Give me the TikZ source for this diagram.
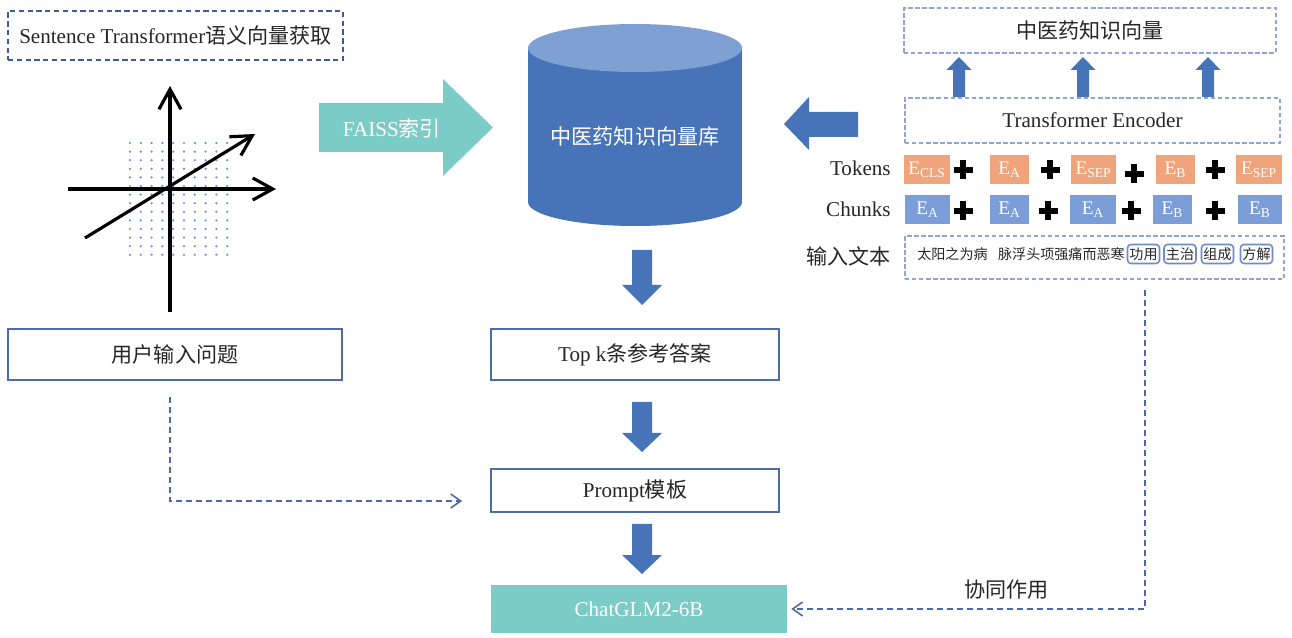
\documentclass[tikz,border=0pt]{standalone}
\usepackage{fontspec}
\setmainfont{Liberation Serif}
\newfontfamily\cjk{Noto Sans CJK SC}
\usetikzlibrary{arrows.meta,calc}

\definecolor{linkblue}{HTML}{4A6AA8}
\definecolor{boxline}{HTML}{4D6DAA}
\definecolor{headline}{HTML}{3D5A9C}
\definecolor{dotline}{HTML}{8EA6D4}
\definecolor{tagline}{HTML}{6F8CC6}
\definecolor{faiss}{HTML}{7BCBC6}
\definecolor{dbbody}{HTML}{4773B8}
\definecolor{dbtop}{HTML}{7FA0D2}
\definecolor{tokorange}{HTML}{F0A47C}
\definecolor{chunkblue}{HTML}{7B9ED8}
\definecolor{griddot}{HTML}{6C8DD2}
\definecolor{txt}{HTML}{262626}

\newcommand{\zh}[1]{{\cjk #1}}

\tikzset{
  box/.style={draw=boxline, line width=0.9pt, fill=white, text=txt, inner sep=0pt,
    font=\fontsize{12}{14}\selectfont},
  headbox/.style={draw=headline, line width=0.9pt, dash pattern=on 3pt off 2pt, text=txt,
    inner sep=0pt, font=\fontsize{12}{14}\selectfont},
  dashbox/.style={draw=dotline, line width=1.1pt, dash pattern=on 2.5pt off 1.5pt, text=txt,
    inner sep=0pt, font=\fontsize{12}{14}\selectfont},
  lbl/.style={text=txt, inner sep=0pt, font=\fontsize{12}{14}\selectfont},
  tok/.style={inner sep=0pt, text=white, font=\fontsize{11}{13}\selectfont},
  tag/.style={draw=tagline, line width=0.9pt, rounded corners=2pt, text=txt, inner sep=0pt,
    minimum width=0.64cm, minimum height=0.38cm, font=\fontsize{8}{9}\selectfont},
  blk/.style={fill=dbbody},
  plus/.style={line width=3.4pt, black},
  axis/.style={line width=1.8pt, black, -{Straight Barb[length=4mm,width=4.4mm]}},
  link/.style={draw=linkblue, line width=0.9pt, dash pattern=on 3.4pt off 2.3pt,
    -{Straight Barb[length=2mm,width=2.8mm]}}
}

\begin{document}
\begin{tikzpicture}[x=0.02cm, y=-0.02cm]
\useasboundingbox (0,0) rectangle (1292,638);

% left column
\node[headbox, minimum width=6.7cm, minimum height=0.98cm] (head) at (175.5,35.5)
  {Sentence Transformer\zh{语义向量获取}};

\foreach \i in {0,...,9}
  \foreach \j in {0,...,13}
    \fill[griddot] (130+\i*10.8,143+\j*8.6) circle (0.7pt);
\draw[axis] (170,312) -- (170,86);
\draw[axis] (68,189) -- (276,189);
\draw[axis] (85,238) -- (255,134);

\node[box, minimum width=6.68cm, minimum height=1.02cm] (user) at (175,354.5) {\zh{用户输入问题}};

% FAISS arrow and vector store
\fill[faiss] (319,103) -- (443,103) -- (443,79) -- (493,127.5) -- (443,176) -- (443,152) -- (319,152) -- cycle;
\node[lbl, text=white] (idx) at (392,128) {FAISS\zh{索引}};

\fill[dbbody] (528,48) rectangle (742,202);
\fill[dbbody] (635,202) ellipse [x radius=107, y radius=24];
\fill[dbtop] (635,48) ellipse [x radius=107, y radius=24];
\node[lbl, text=white] (db) at (635,137) {\zh{中医药知识向量库}};

\fill[blk] (858,112) -- (809,112) -- (809,97) -- (784,124) -- (809,150) -- (809,137) -- (858,137) -- cycle;

% middle column
\node[box, minimum width=5.76cm, minimum height=1.02cm] (topk) at (635,354.5) {Top k\zh{条参考答案}};
\node[box, minimum width=5.76cm, minimum height=0.86cm] (prompt) at (635,490.5) {Prompt\zh{模板}};
\node[box, draw=none, fill=faiss, text=white, minimum width=5.92cm, minimum height=0.96cm] (glm) at (639,609) {ChatGLM2-6B};

\foreach \a/\b/\c in {250/285/305, 402/433/452, 524/555/574}
  \fill[blk] (632,\a) -- (652,\a) -- (652,\b) -- (662,\b) -- (642,\c) -- (622,\b) -- (632,\b) -- cycle;

% right column
\node[dashbox, minimum width=7.44cm, minimum height=0.9cm] (vec) at (1090,30.5) {\zh{中医药知识向量}};
\node[dashbox, minimum width=7.5cm, minimum height=0.9cm] (enc) at (1092.5,120.5) {Transformer Encoder};

\foreach \x in {959,1083,1208}
  \fill[blk] (\x-6,97) -- (\x-6,70) -- (\x-12.5,70) -- (\x,57) -- (\x+12.5,70) -- (\x+6,70) -- (\x+6,97) -- cycle;

\node[lbl, anchor=east] (tokl) at (891,168) {Tokens};
\node[lbl, anchor=east] (chkl) at (891,209) {Chunks};
\node[lbl, anchor=east] (inl) at (891,256) {\zh{输入文本}};

\foreach \l/\r/\s [count=\i] in {904/950/CLS, 990/1029/A, 1071/1116/SEP, 1156/1195/B, 1236/1282/SEP}
  \node[tok, fill=tokorange, minimum width={(\r-\l)*0.02cm}, minimum height=0.58cm]
    (t\i) at ({(\l+\r)/2},169.5) {E\textsubscript{\s}};
\foreach \l/\r/\s [count=\i] in {905/950/A, 990/1029/A, 1070/1116/A, 1153/1192/B, 1238/1282/B}
  \node[tok, fill=chunkblue, minimum width={(\r-\l)*0.02cm}, minimum height=0.58cm]
    (c\i) at ({(\l+\r)/2},209.5) {E\textsubscript{\s}};

\foreach \x/\y in {963/170, 1050/170, 1134/174, 1215/170, 963/211, 1048/211, 1131/211, 1215/211}
  \draw[plus] (\x-9.5,\y) -- (\x+9.5,\y) (\x,\y-9.5) -- (\x,\y+9.5);

\node[dashbox, minimum width=7.58cm, minimum height=0.86cm] (inp) at (1094.5,257.5) {};
\node[lbl, anchor=west, font=\fontsize{8}{9}\selectfont] (src) at (917,254.5)
  {\zh{太阳之为病\hspace{6pt}脉浮头项强痛而恶寒}};
\foreach \c/\w [count=\i] in {1143.5/功用, 1180/主治, 1217.5/组成, 1256.5/方解}
  \node[tag] (g\i) at (\c,254) {\zh{\w}};

% dashed links
\coordinate (uo) at ($(user.south)+(-5,16)$);
\draw[link, shorten >=16pt] (uo) |- ($(prompt.west)+(0,10.5)$);
\coordinate (io) at (1145,290);
\draw[link, shorten >=2pt] (io) |- (glm.east)
  node[lbl, pos=0.694, above=5pt] (syn) {\zh{协同作用}};
\end{tikzpicture}
\end{document}
